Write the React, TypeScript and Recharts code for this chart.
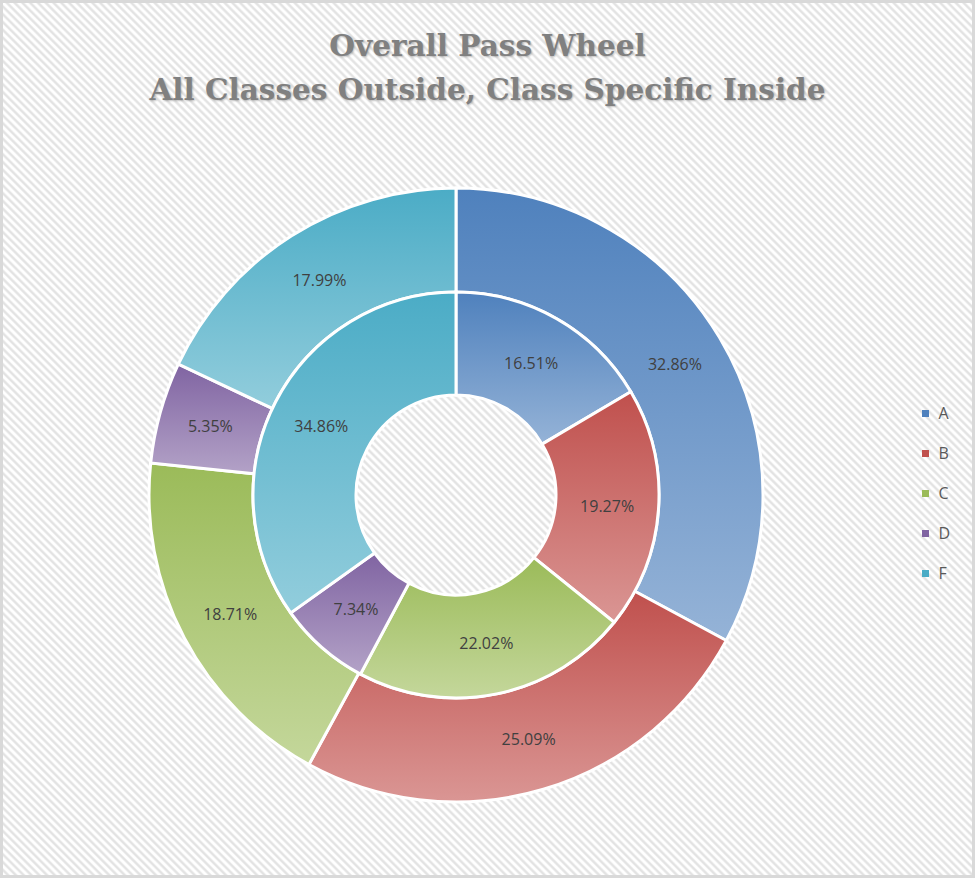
import { PieChart, Pie, Cell, Legend } from "recharts";

const categories = ["A", "B", "C", "D", "F"];
const outerValues = [32.86, 25.09, 18.71, 5.35, 17.99];
const innerValues = [16.51, 19.27, 22.02, 7.34, 34.86];
const darkColors = ["#4F81BD", "#C0504D", "#9BBB59", "#8064A2", "#4BACC6"];
const lightColors = ["#95B3D7", "#DA9694", "#C4D79B", "#B3A2C7", "#92CDDC"];

const outerData = categories.map((name, i) => ({ name, value: outerValues[i] }));
const innerData = categories.map((name, i) => ({ name, value: innerValues[i] }));

const RADIAN = Math.PI / 180;

const renderLabel = (props: any) => {
  const { cx, cy, midAngle, innerRadius, outerRadius, value } = props;
  const r = (innerRadius + outerRadius) / 2;
  const x = cx + r * Math.cos(-midAngle * RADIAN);
  const y = cy + r * Math.sin(-midAngle * RADIAN);
  return (
    <text
      x={x}
      y={y}
      textAnchor="middle"
      dominantBaseline="central"
      fill="#404040"
      fontSize={16}
      fontFamily="'Open Sans', sans-serif"
    >
      {value.toFixed(2)}%
    </text>
  );
};

const renderLegend = () => (
  <div style={{ fontFamily: "'Open Sans', sans-serif", fontSize: 16, color: "#595959" }}>
    {categories.map((c, i) => (
      <div key={c} style={{ display: "flex", alignItems: "center", height: 40 }}>
        <span
          style={{
            display: "inline-block",
            width: 7,
            height: 7,
            background: darkColors[i],
            marginRight: 9,
          }}
        />
        {c}
      </div>
    ))}
  </div>
);

export default function App() {
  return (
    <div
      style={{
        position: "fixed",
        left: 0,
        top: 0,
        width: 975,
        height: 878,
        boxSizing: "border-box",
        border: "3px solid #d9d9d9",
        background:
          "repeating-linear-gradient(45deg, #ffffff 0px, #ffffff 1.5px, #e3e3e3 3px, #e3e3e3 4px, #ffffff 5.5px)",
      }}
    >
      <div
        style={{
          position: "absolute",
          left: 0,
          top: 21,
          width: 969,
          textAlign: "center",
          fontFamily: "'DejaVu Serif', serif",
          fontWeight: "bold",
          fontSize: 29.5,
          lineHeight: "44px",
          color: "#808080",
          textShadow: "1px 1px 2px rgba(0,0,0,0.25)",
        }}
      >
        <div>Overall Pass Wheel</div>
        <div>All Classes Outside, Class Specific Inside</div>
      </div>
      <PieChart width={969} height={872} style={{ position: "absolute", left: 0, top: 0 }}>
        <defs>
          {categories.map((c, i) => (
            <linearGradient key={c} id={`grad${c}`} x1="0" y1="0" x2="0" y2="1">
              <stop offset="0%" stopColor={darkColors[i]} />
              <stop offset="100%" stopColor={lightColors[i]} />
            </linearGradient>
          ))}
        </defs>
        <Pie
          data={outerData}
          dataKey="value"
          cx={448}
          cy={487}
          startAngle={90}
          endAngle={-270}
          innerRadius={203}
          outerRadius={307}
          stroke="#ffffff"
          strokeWidth={3}
          label={renderLabel}
          labelLine={false}
          isAnimationActive={false}
        >
          {outerData.map((d) => (
            <Cell key={d.name} fill={`url(#grad${d.name})`} />
          ))}
        </Pie>
        <Pie
          data={innerData}
          dataKey="value"
          cx={448}
          cy={487}
          startAngle={90}
          endAngle={-270}
          innerRadius={100}
          outerRadius={203}
          stroke="#ffffff"
          strokeWidth={3}
          label={renderLabel}
          labelLine={false}
          legendType="none"
          isAnimationActive={false}
        >
          {innerData.map((d) => (
            <Cell key={d.name} fill={`url(#grad${d.name})`} />
          ))}
        </Pie>
        <Legend
          layout="vertical"
          align="right"
          verticalAlign="top"
          content={renderLegend}
          wrapperStyle={{ right: 22, top: 390 }}
        />
      </PieChart>
    </div>
  );
}
